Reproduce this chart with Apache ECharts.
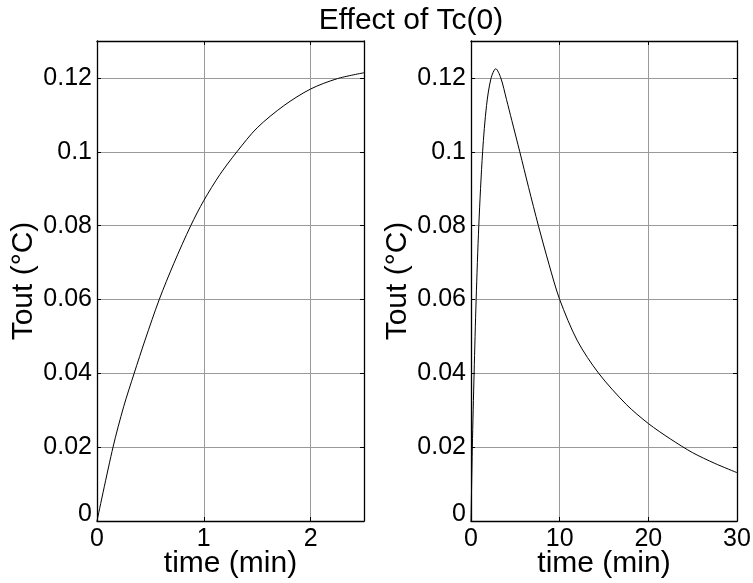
<!DOCTYPE html>
<html>
<head>
<meta charset="utf-8">
<script src="https://cdn.jsdelivr.net/npm/echarts@6/dist/echarts.min.js"></script>
<style>
html,body{margin:0;padding:0;background:#fff;}
#chart{width:753px;height:583px;}
</style>
</head>
<body>
<div id="chart"></div>
<script>
// ---- data ----
const titleText = 'Effect of Tc(0)';
const xName = 'time (min)';
const yName = 'Tout (\u00B0C)';

const leftTime = [0, 0.15, 0.25, 0.348, 0.45, 0.583, 0.72, 0.878, 1.0, 1.15, 1.31, 1.5, 1.75, 2.0, 2.25, 2.5];
const leftTout = [0, 0.02, 0.031, 0.04, 0.049, 0.06, 0.0698, 0.08, 0.0868, 0.0938, 0.10, 0.1065, 0.1125, 0.117, 0.1198, 0.1214];

const rightTime = [0, 0.15, 0.35, 0.58, 0.88, 1.31, 1.75, 2.25, 2.79, 3.36, 4.0, 4.6, 5.5, 6.5, 7.6, 8.8, 10, 12, 14.4, 17.5, 20, 22.5, 25, 27.5, 30];
const rightTout = [0, 0.02, 0.04, 0.06, 0.08, 0.1, 0.1125, 0.1198, 0.1225, 0.12, 0.1142, 0.1085, 0.1, 0.0903, 0.08, 0.0695, 0.06, 0.0488, 0.04, 0.0316, 0.0264, 0.0222, 0.0185, 0.0156, 0.0131];

const leftXRange = [0, 2.5, 1];
const rightXRange = [0, 30, 10];
const yRange = [0, 0.13, 0.02];

// ---- chart ----
const FONT = '"Liberation Sans", Arial, Helvetica, sans-serif';
const pairs = (xs, ys) => xs.map((x, i) => [x, ys[i]]);

function xAxes(gridIndex, r) {
  return [
    {
      type: 'value', gridIndex, position: 'bottom', min: r[0], max: r[1], interval: r[2],
      name: xName, nameLocation: 'middle', nameGap: 28, nameMoveOverlap: false,
      nameTextStyle: { color: '#000', fontSize: 30, fontFamily: FONT },
      axisLine: { show: true, lineStyle: { color: '#000', width: 1.3 } },
      axisTick: { show: true, inside: true, length: 4, lineStyle: { color: '#000' } },
      axisLabel: { color: '#000', fontSize: 25, fontFamily: FONT, margin: 6, showMaxLabel: r[1] % r[2] === 0 },
      splitLine: { show: true, lineStyle: { color: '#9a9a9a', width: 1 } }
    },
    {
      type: 'value', gridIndex, position: 'top', min: r[0], max: r[1], interval: r[2],
      axisLine: { show: true, onZero: false, lineStyle: { color: '#000', width: 1.3 } },
      axisTick: { show: true, inside: true, length: 4, lineStyle: { color: '#000' } },
      axisLabel: { show: false },
      splitLine: { show: false }
    }
  ];
}

function yAxes(gridIndex) {
  return [
    {
      type: 'value', gridIndex, position: 'left', min: yRange[0], max: yRange[1], interval: yRange[2],
      name: yName, nameLocation: 'middle', nameGap: 58, nameRotate: 90, nameMoveOverlap: false,
      nameTextStyle: { color: '#000', fontSize: 30, fontFamily: FONT },
      axisLine: { show: true, lineStyle: { color: '#000', width: 1.3 } },
      axisTick: { show: true, inside: true, length: 4, lineStyle: { color: '#000' } },
      axisLabel: {
        color: '#000', fontSize: 25, fontFamily: FONT, margin: 5, showMaxLabel: false,
        formatter: v => (v === 0 ? '{z|0}' : String(+v.toFixed(2))),
        rich: { z: { fontSize: 25, fontFamily: FONT, color: '#000', padding: [0, 0, 14, 0] } }
      },
      splitLine: { show: true, lineStyle: { color: '#9a9a9a', width: 1 } }
    },
    {
      type: 'value', gridIndex, position: 'right', min: yRange[0], max: yRange[1], interval: yRange[2],
      axisLine: { show: true, onZero: false, lineStyle: { color: '#000', width: 1.3 } },
      axisTick: { show: true, inside: true, length: 4, lineStyle: { color: '#000' } },
      axisLabel: { show: false },
      splitLine: { show: false }
    }
  ];
}

const chart = echarts.init(document.getElementById('chart'), null, { renderer: 'canvas' });
chart.setOption({
  animation: false,
  backgroundColor: '#fff',
  title: {
    text: titleText, left: 406, top: 1, textAlign: 'center',
    textStyle: { color: '#000', fontSize: 30, fontWeight: 'normal', fontFamily: FONT }
  },
  grid: [
    { left: 97, top: 41, width: 267, height: 480, outerBoundsMode: 'none', containLabel: false },
    { left: 471, top: 41, width: 266, height: 480, outerBoundsMode: 'none', containLabel: false }
  ],
  xAxis: [...xAxes(0, leftXRange), ...xAxes(1, rightXRange)],
  yAxis: [...yAxes(0), ...yAxes(1)],
  series: [
    {
      type: 'line', xAxisIndex: 0, yAxisIndex: 0, data: pairs(leftTime, leftTout),
      smooth: 0.3, showSymbol: false, lineStyle: { color: '#000', width: 1 }
    },
    {
      type: 'line', xAxisIndex: 2, yAxisIndex: 2, data: pairs(rightTime, rightTout),
      smooth: 0.3, showSymbol: false, lineStyle: { color: '#000', width: 1 }
    }
  ]
});
</script>
</body>
</html>
